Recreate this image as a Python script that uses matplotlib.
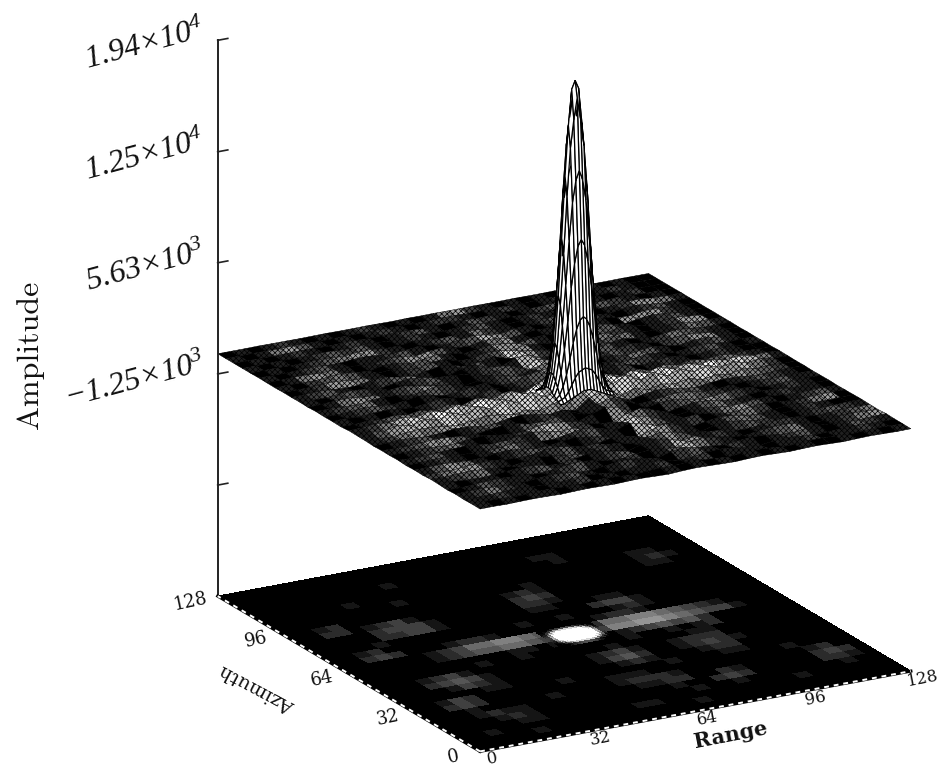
import numpy as np
import matplotlib
matplotlib.use("Agg")
import matplotlib.pyplot as plt
from mpl_toolkits.mplot3d import proj3d

plt.rcParams["mathtext.fontset"] = "custom"
plt.rcParams["mathtext.default"] = "regular"
plt.rcParams["hatch.linewidth"] = 0.5

# amplitude, one row per azimuth, one column per range
range_pos = np.arange(0, 129, 4)
azimuth_pos = np.arange(0, 129, 4)
clutter = np.array([
    [0, 10, -10, 10, 20, 10, -20, 10, 30, 10, -10, 20, 40, 10, -20, 30, 60, 40, 10, -10, 30, 50, 20, -10, 20, 40, 10, -20, 10, 30, 10, -10, 0],
    [10, 30, 20, -20, -30, 40, 50, -10, -30, 40, 70, 20, -40, 30, 80, 60, 120, 90, 30, -30, 40, 90, 50, -20, -30, 40, 70, 20, -30, 20, 60, 30, 10],
    [-10, -40, -20, 30, 60, 10, -40, -70, 20, 90, 30, -60, -30, 80, 140, 40, -80, -20, 110, 160, 90, -30, -60, 30, 80, 20, -60, -40, 30, 60, 10, -20, 10],
    [20, 50, 70, 20, -30, -50, 50, 120, 80, -30, -80, 30, 150, 170, 60, -70, 160, 260, 120, 40, -40, 60, 150, 90, -30, -70, 40, 90, 50, -20, -40, 20, 30],
    [-20, -30, 10, 60, 90, 40, -20, -60, 30, 150, 210, 90, -60, -110, 40, 120, 60, -40, 180, 260, 140, 20, -90, 30, 130, 170, 60, -40, -70, 30, 80, 40, -10],
    [10, 40, -20, -60, -20, 50, 130, 100, -50, -90, 40, 180, 220, 70, -90, 150, 340, 190, -70, 60, 200, 110, -60, -100, 20, 110, 140, 30, -60, -30, 40, 10, 0],
    [30, 10, 50, 90, 40, -40, -80, 60, 170, 90, -60, -120, 30, 160, 120, -100, 120, 280, 170, -80, -110, 90, 180, 80, -70, -40, 80, 120, 30, -50, -20, 30, 20],
    [-10, -30, -50, 20, 90, 110, 30, -70, -30, 120, 190, 50, -100, -60, 120, 90, -120, 150, 410, 140, -90, 40, 170, 120, -50, -90, 20, 90, 70, -20, -40, -10, 10],
    [10, 30, 60, 10, -40, -20, 90, 150, 50, -60, -40, 100, 170, 30, -110, 160, 430, 260, -60, -30, 130, 210, 80, -60, -80, 40, 130, 60, -40, -30, 30, 40, 0],
    [-20, 10, 30, 70, 50, -30, -70, 30, 140, 100, -70, -90, 60, 220, 140, -90, 200, 400, 240, -110, -20, 90, 120, 40, -90, -30, 70, 100, 20, -50, -10, 10, -10],
    [20, -20, -40, 10, 80, 120, 40, -60, -10, 130, 200, 60, -80, -20, 130, -40, -120, 260, 450, 180, -120, 60, 170, 130, -20, -80, 30, 120, 70, -40, -30, 30, 10],
    [0, 30, 50, 30, -30, -10, 110, 150, 30, -80, -50, 120, 180, 70, -70, 260, 500, 360, -90, 10, 150, 220, 60, -70, -50, 70, 140, 40, -50, -20, 30, 10, 0],
    [10, -10, -30, 40, 90, 60, -40, -60, 60, 170, 120, -50, -70, 90, 240, -60, 380, 600, 300, -70, -20, 100, 180, 90, -60, -30, 60, 110, 30, -40, -10, 20, -10],
    [-10, 20, 60, 20, -40, 10, 120, 90, -50, -30, 130, 210, 70, -90, 40, -130, 500, 700, 240, -110, 60, 190, 130, -30, -90, 20, 100, 70, -20, -50, 20, 30, 10],
    [20, -20, -50, 30, 110, 80, -20, -90, 30, 160, 70, -80, 60, -120, 130, 420, 700, 800, 400, -140, 180, -90, 120, -40, 150, -80, 60, -70, 120, -30, 40, -10, 0],
    [30, 130, -10, 200, 30, 280, 60, 360, 70, 450, 120, 560, 170, 690, 260, 860, 1200, 1300, 880, 300, 700, 210, 540, 160, 430, 110, 340, 80, 260, 50, 170, 30, 10],
    [40, 80, 160, 60, 240, 90, 320, 120, 420, 160, 520, 220, 640, 300, 800, 1100, 1250, 1200, 820, 620, 240, 520, 190, 420, 130, 320, 100, 250, 70, 190, 40, 90, 20],
    [-10, -30, 40, -40, 70, -50, 90, -90, 130, -110, 170, -130, 190, -160, 160, 400, 700, 800, 400, -170, 150, -120, 130, -100, 100, -70, 90, -60, 60, -30, 30, -10, 0],
    [10, 40, -20, 50, 90, 20, -70, 40, 170, 90, -80, 30, 200, 80, -120, -80, 400, 600, 160, -130, 80, 210, 100, -70, 40, 130, 60, -30, 40, 90, 30, -10, 10],
    [0, -30, 30, 100, 40, -50, 70, 190, 80, -80, -30, 160, 240, -40, -120, 240, 360, 450, -60, 40, 190, 120, -60, 30, 160, 90, -50, 60, 130, 40, -30, 20, 0],
    [20, 50, -10, -40, 60, 130, 80, -60, 30, 210, 140, -90, 60, 260, 70, -130, 160, 360, 190, -100, 120, 230, 90, -80, 70, 180, 40, -60, 90, 120, -20, 10, 10],
    [-10, 10, 70, 90, -20, -50, 100, 210, 60, -100, 70, 270, 180, -80, 20, 240, -100, 320, 110, -60, 170, 140, -70, 60, 200, 110, -50, 50, 150, 60, -40, 30, -10],
    [10, -20, -40, 60, 120, 30, -70, 70, 190, 130, -50, -80, 210, 300, -30, -100, 250, 300, -90, 80, 230, 90, -90, 90, 210, 70, -60, 40, 140, 80, -30, -20, 10],
    [0, 30, 60, 20, -50, -20, 130, 180, 20, -90, 60, 220, 110, -100, 30, 190, -70, 230, 100, -40, 150, 200, 40, -80, 110, 180, 30, -50, 100, 130, -10, 20, 0],
    [10, -10, 20, 70, 80, -30, -40, 110, 170, -40, -60, 170, 190, -60, -70, 130, 90, -40, 170, 60, -70, 130, 190, -40, -40, 140, 130, -30, 40, 150, 60, -10, 10],
    [-10, 20, -20, -30, 50, 110, 10, -60, 120, 120, -60, 30, 180, 80, -80, 40, 160, 80, -70, 110, 160, 10, -80, 90, 190, 40, -70, 60, 170, 90, -20, 30, 0],
    [0, 10, 40, 20, -30, 30, 90, -20, -40, 130, 70, -70, 90, 150, -10, -70, 110, 120, -50, 60, 190, 120, -50, -20, 120, 130, -20, -30, 110, 120, 30, -10, 10],
    [10, -10, -20, 30, 60, -10, -30, 60, 90, 10, -50, 40, 130, 30, -80, 60, 140, 40, -60, 110, 170, 20, -70, 60, 170, 50, -60, 70, 150, 60, -30, 20, 0],
    [0, 10, 20, -10, 20, 50, 10, -30, 50, 70, -30, -20, 90, 70, -50, -10, 100, 60, -30, 70, 130, 50, -40, 30, 110, 90, -40, -20, 90, 90, 10, -10, 10],
    [0, -10, 10, 20, -10, 10, 40, 10, -20, 40, 40, -20, 30, 60, 0, -30, 50, 70, -10, 40, 100, 40, -30, 20, 90, 60, -20, 20, 80, 50, -10, 10, 0],
    [0, 10, 0, -10, 10, 20, 0, -10, 20, 30, -10, 0, 30, 20, -20, 10, 50, 30, -20, 30, 60, 20, -20, 10, 60, 50, -10, 20, 60, 30, 0, -10, 0],
    [0, 0, 10, 0, -10, 10, 10, -10, 0, 20, 10, -10, 10, 20, -10, 0, 20, 20, -10, 10, 30, 10, -10, 20, 30, 10, -10, 20, 30, 10, 10, 0, 0],
    [0, 0, 0, 10, 0, 0, -10, 0, 10, 0, 0, 10, 0, -10, 10, 0, 10, 0, 0, 10, 0, 0, 10, 0, 0, 10, 0, 10, 0, 0, 10, 0, 0],
], dtype=float)

# main lobe, sampled finer
peak_range = np.arange(58, 75)
peak_azimuth = np.arange(56, 69)
peak = np.array([
    [0, 0, 100, 200, 300, 400, 500, 600, 600, 600, 500, 400, 300, 200, 100, 0, 0],
    [100, 200, 300, 600, 1000, 1400, 1700, 1800, 1900, 1800, 1700, 1400, 1000, 600, 300, 200, 100],
    [200, 400, 900, 1600, 2500, 3500, 4300, 4800, 5000, 4800, 4300, 3500, 2500, 1600, 900, 400, 200],
    [300, 800, 1700, 3100, 4800, 6800, 8300, 9300, 9700, 9300, 8300, 6800, 4800, 3100, 1700, 800, 300],
    [400, 1100, 2400, 4500, 7000, 9700, 12000, 13300, 13900, 13300, 12000, 9700, 7000, 4500, 2400, 1100, 400],
    [600, 1400, 3000, 5700, 8900, 12400, 15300, 17000, 18300, 17000, 15300, 12400, 8900, 5700, 3000, 1400, 600],
    [600, 1500, 3300, 6200, 9700, 13500, 16600, 18800, 19300, 18800, 16600, 13500, 9700, 6200, 3300, 1500, 600],
    [600, 1400, 3000, 5700, 8900, 12400, 15300, 17000, 18300, 17000, 15300, 12400, 8900, 5700, 3000, 1400, 600],
    [400, 1100, 2400, 4500, 7000, 9700, 12000, 13300, 13900, 13300, 12000, 9700, 7000, 4500, 2400, 1100, 400],
    [300, 800, 1700, 3100, 4800, 6800, 8300, 9300, 9700, 9300, 8300, 6800, 4800, 3100, 1700, 800, 300],
    [200, 400, 900, 1600, 2500, 3500, 4300, 4800, 5000, 4800, 4300, 3500, 2500, 1600, 900, 400, 200],
    [100, 200, 300, 600, 1000, 1400, 1700, 1800, 1900, 1800, 1700, 1400, 1000, 600, 300, 200, 100],
    [0, 0, 100, 200, 300, 400, 500, 600, 600, 600, 500, 400, 300, 200, 100, 0, 0],
], dtype=float)

# how open the mesh looks per cell, 0 packed black to 9 open (read by eye)
mesh_levels = [
    "10101101 01010010 10101010 10010101",
    "11211011 20101120 12011101 12011210",
    "12421012 31012110 23102101 23101321",
    "01321101 23101201 36421012 34101245",
    "10110123 12012301 26512101 22101234",
    "12341011 02312101 35310123 21012321",
    "24552101 12312011 55210134 31012100",
    "13541012 32101210 67412013 42012450",
    "01210134 21012311 75310124 53101231",
    "12310123 21455201 64210134 21012110",
    "01234101 12565210 53102345 42101210",
    "12355310 01343101 42013443 21012311",
    "01231012 31012101 63101233 10123210",
    "12454565 45654545 76545465 45454320",
    "13566576 65767675 85676576 67656420",
    "12467687 68767868 79786878 67867641",
    "01234343 45454546 65454545 43434210",
    "10101012 10120123 45101201 21012100",
    "01232101 01210123 55101232 10123101",
    "12341012 32101231 45310124 31012310",
    "01454123 52101232 75101232 10235510",
    "10232101 23101231 65101231 01243210",
    "12310123 41012310 75210123 41012431",
    "01255410 12310123 75101234 21012550",
    "10234310 12341012 55310123 31012310",
    "01454101 23553101 45101234 10555210",
    "10123101 12310123 65310123 21012310",
    "01012345 52101231 42101232 10125541",
    "10101232 31012101 23101210 12321010",
    "01012101 21012310 13210123 10101200",
    "10145310 10121012 21012101 21012100",
    "01012101 01210101 45210101 01010100",
]

# gray of the image plane per cell, in tenths (read by eye)
floor_levels = [
    "00000000 00000000 00000000 00000000",
    "00000100 00000000 01000000 00000000",
    "00100000 00000110 00000000 01000000",
    "00000110 00000000 00100100 00000100",
    "00001210 00000000 01002320 00002210",
    "00012110 00000001 12200210 00002320",
    "00010000 01000012 22100000 00001200",
    "00232000 00000011 10000000 00010000",
    "00132000 00010000 00010001 10000000",
    "00000011 00000000 12100012 20000000",
    "00001321 00000001 34200123 21000000",
    "00023431 00000001 23100122 20000000",
    "00012310 00000000 01000001 10000000",
    "00000000 10010000 00010010 12000000",
    "00000000 00011010 00012343 42000000",
    "00000012 34455430 00366776 54331000",
    "00000012 35566540 00255665 43210000",
    "00232000 12210000 00012210 00000000",
    "00120000 00000010 01000121 00000000",
    "00001000 00000000 00002331 00000000",
    "00000223 31000000 11000110 00000000",
    "00000233 31000000 22100000 00000000",
    "00220123 10000000 23200000 00000000",
    "00120000 00000000 12100000 00000000",
    "00000000 00000000 00100000 00011000",
    "00000000 01000000 00000000 00012100",
    "00000010 00000000 00000000 00011000",
    "00000000 00000000 00000010 00000000",
    "00000000 00100000 00000110 00000000",
    "00000000 00000000 00000000 00000000",
    "00000000 00000000 00000000 00000000",
    "00000000 00000000 00000000 00000000",
]

z_ticks = [19400, 12500, 5630, -1250, -8130, -15000]
z_labels = [r"$1.94{\times}10^{4}$", r"$1.25{\times}10^{4}$", r"$5.63{\times}10^{3}$", r"$-1.25{\times}10^{3}$"]
xy_ticks = [0, 32, 64, 96, 128]
floor_z = -15000
top_z = 19400

W, H = 951, 766
fig = plt.figure(figsize=(W / 100, H / 100), dpi=100)
size = 910
cx, cy = 552, 368
ax = fig.add_axes([(cx - size / 2) / W, 1 - (cy + size / 2) / H, size / W, size / H],
                  projection="3d", computed_zorder=False)
ax.set_proj_type("ortho")
ax.view_init(elev=19.4, azim=-119.3)
ax.set_box_aspect((493, 535, 588))
ax.set_xlim(0, 128)
ax.set_ylim(0, 128)
ax.set_zlim(floor_z, top_z)
ax.set_axis_off()
ax.patch.set_alpha(0)


def label(x, y, z, s, **kw):
    # 3d text ignores rotation, so place it in projected coordinates
    px, py, _ = proj3d.proj_transform(x, y, z, ax.get_proj())
    ax.text2D(px, py, s, transform=ax.transData, color="#111111", **kw)


def to_rgba(g):
    g = np.clip(g, 0, 1)
    return np.dstack([g, g, g, np.ones_like(g)])


def parse_levels(rows):
    return np.array([[int(c) for c in row if c != " "] for row in rows], dtype=float)


def lobe_gray(z):
    g = np.clip(np.abs(z) / 1300.0, 0, 1)
    return np.clip(1.3 * (0.25 * (g[:-1, :-1] + g[1:, 1:] + g[:-1, 1:] + g[1:, :-1]) - 0.09), 0, 1)


R, A = np.meshgrid(range_pos, azimuth_pos)
PR, PA = np.meshgrid(peak_range, peak_azimuth)

ax.plot_surface(R, A, np.full_like(clutter, floor_z), facecolors=to_rgba(parse_levels(floor_levels) / 12),
                rstride=1, cstride=1, shade=False, linewidth=0, antialiased=False, zorder=1)
ax.plot_surface(PR, PA, np.full_like(peak, floor_z), facecolors=to_rgba(lobe_gray(peak * 0.35)),
                rstride=1, cstride=1, shade=False, linewidth=0, antialiased=False, zorder=2)
ax.plot_surface(R, A, clutter, facecolors=to_rgba(parse_levels(mesh_levels) / 8), rstride=1, cstride=1,
                shade=False, linewidth=0.3, edgecolor="k", hatch="xxxxxx", zorder=3)
ax.plot_surface(PR, PA, peak, color="white", rstride=1, cstride=1, shade=False,
                linewidth=0.9, edgecolor="k", zorder=4)

# vertical axis
ax.plot([0, 0], [128, 128], [floor_z, top_z], color="#222222", lw=1.4, zorder=5)
for z in z_ticks[:-1]:
    ax.plot([0, 3], [128, 128], [z, z], color="#222222", lw=1.2, zorder=5)
for z, lab in zip(z_ticks, z_labels):
    label(-4, 128, z + 800, lab, fontsize=23, family="Liberation Serif", style="italic",
          rotation=15, ha="right", va="center", rotation_mode="anchor")

# dashed frame of the image plane
ax.plot([0, 128], [0, 0], [floor_z, floor_z], color="k", lw=2.2, zorder=6)
ax.plot([0, 0], [0, 128], [floor_z, floor_z], color="k", lw=2.2, zorder=6)
ax.plot([0, 128], [0, 0], [floor_z, floor_z], color="w", lw=1.4, ls=(0, (2.5, 2.5)), zorder=7)
ax.plot([0, 0], [0, 128], [floor_z, floor_z], color="w", lw=1.4, ls=(0, (2.5, 2.5)), zorder=7)

for t in xy_ticks:
    label(t, -6, floor_z, str(t), fontsize=12, family="DejaVu Serif", rotation=11, ha="center", va="center")
    label(-8, t, floor_z, str(t), fontsize=13, family="DejaVu Serif", rotation=12, ha="center", va="center")
label(63, -19, floor_z, "Range", fontsize=15, family="DejaVu Serif", fontweight="bold", rotation=11, ha="center", va="center")
label(-26, 66, floor_z, "Azimuth", fontsize=14, family="DejaVu Serif", rotation=152, ha="center", va="center")
fig.text(30 / W, 1 - 355 / H, "Amplitude", fontsize=23, family="cmr10", rotation=90, ha="center", va="center", color="#111111")

fig.savefig("out.png", dpi=100, facecolor="white")
